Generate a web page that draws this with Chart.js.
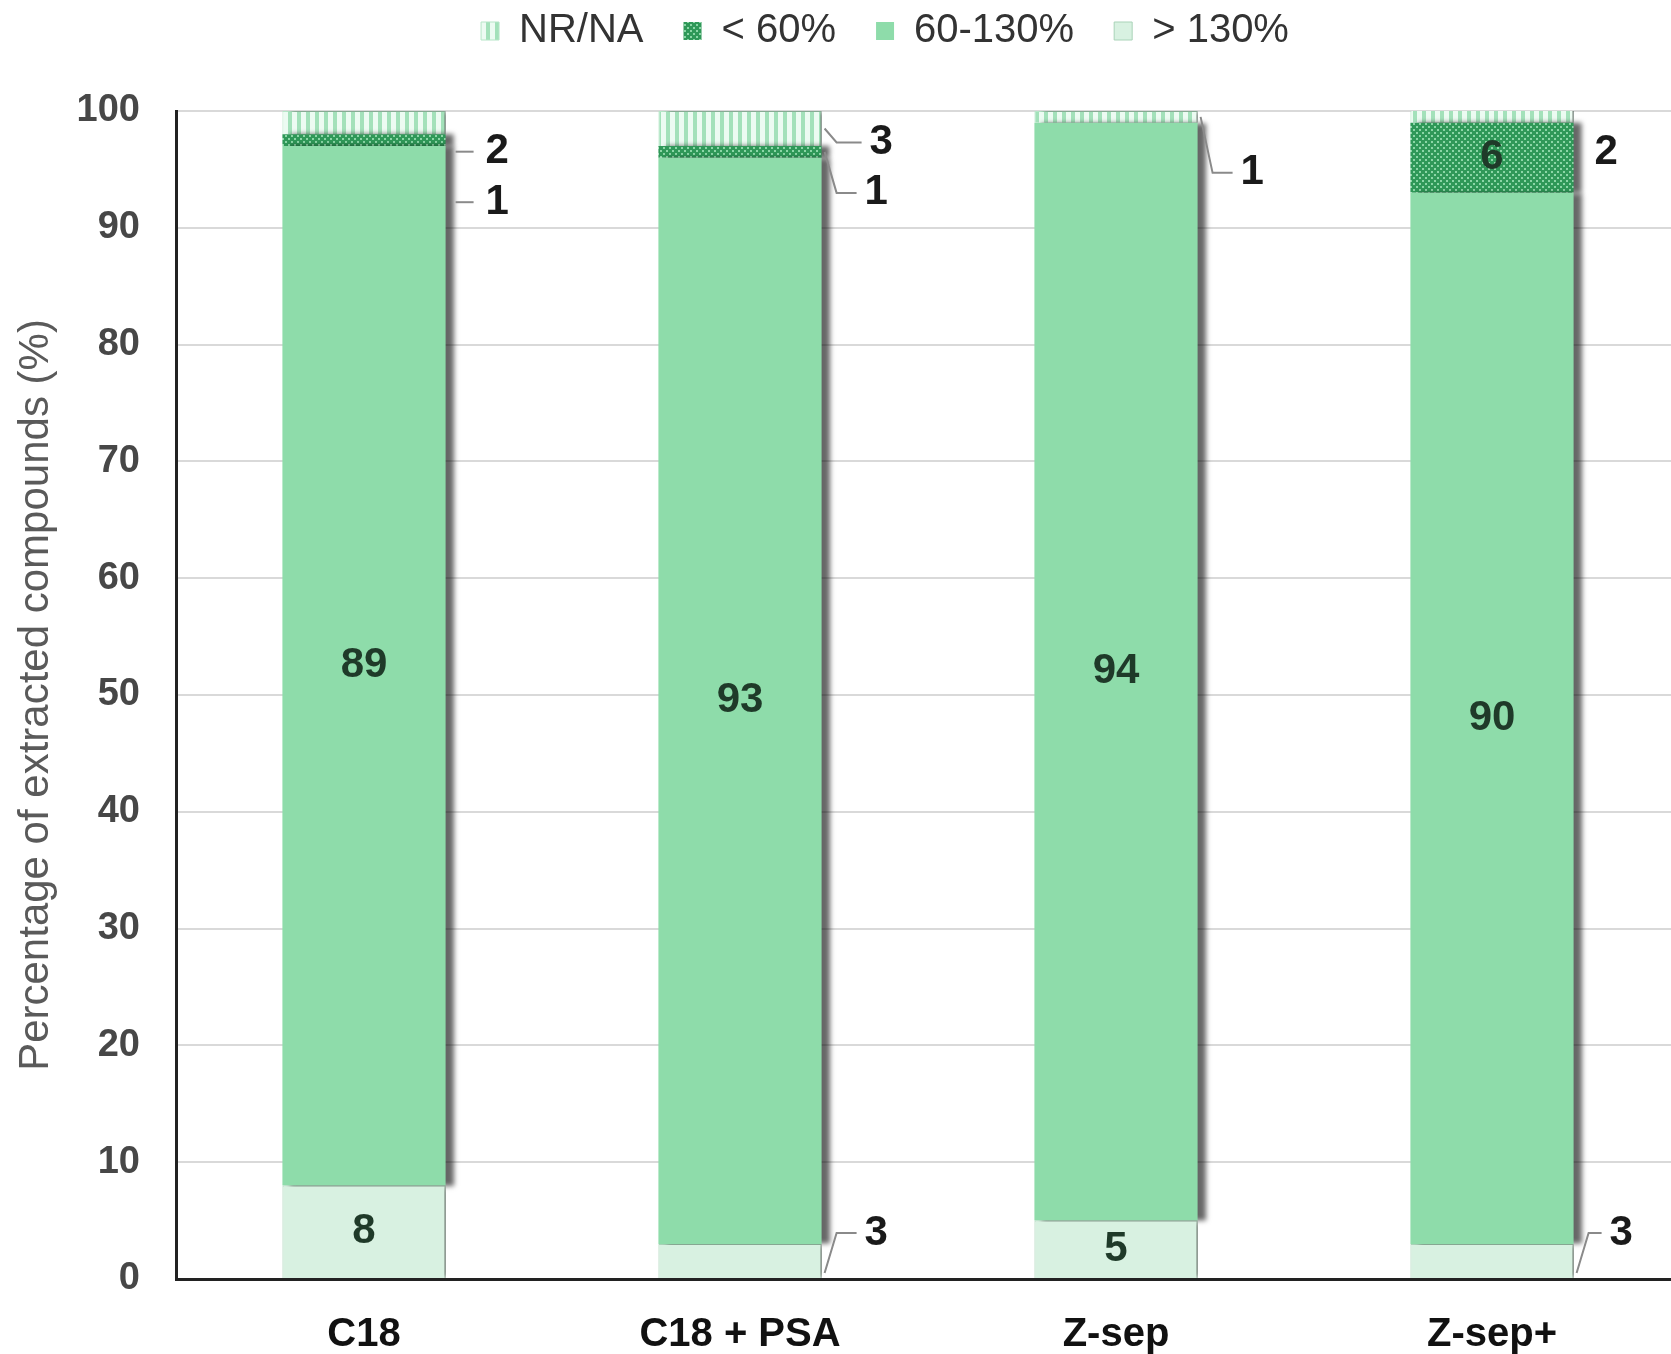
<!DOCTYPE html>
<html>
<head>
<meta charset="utf-8">
<title>Extracted compounds by clean-up sorbent</title>
<script src="https://cdn.jsdelivr.net/npm/chart.js@4.4.0/dist/chart.umd.min.js"></script>
<style>
  html, body { margin: 0; padding: 0; overflow: hidden; background: #fff; }
  #wrap { width: 1680px; height: 1354px; }
</style>
</head>
<body>
<div id="wrap"><canvas id="recovery" width="1680" height="1354"></canvas></div>
<script>
// sorbents on the x axis
const sorbents = ['C18', 'C18 + PSA', 'Z-sep', 'Z-sep+'];
// share of compounds (%) in each recovery class, stacked bottom to top
const over130 = [8, 3, 5, 3];
const within60to130 = [89, 93, 94, 90];
const under60 = [1, 1, 0, 6];
const notRecovered = [2, 3, 1, 2];
const yTicks = [0, 10, 20, 30, 40, 50, 60, 70, 80, 90, 100];

const FONT = '"Liberation Sans", Arial, sans-serif';

// where each value label goes: 'in' = centred in the segment,
// otherwise offset to the right of the bar with an optional leader line
const labelSpots = [
  ['in', {dx: 43, dy: -28, from: 12, leader: 'elbow'}, 'in', {dx: 36, dy: -28, from: 12, leader: 'elbow'}],
  ['in', 'in', 'in', 'in'],
  [{dx: 40, dy: 62, leader: 'dash'}, {dx: 43, dy: 41, leader: 'elbow'}, 'skip', 'in'],
  [{dx: 40, dy: 29, leader: 'dash'}, {dx: 48, dy: 14, leader: 'elbow'}, {dx: 43, dy: 56, leader: 'elbow'}, {dx: 21, dy: 41, leader: 'none'}]
];

function makePattern(size, paint) {
  const c = document.createElement('canvas');
  c.width = size; c.height = size;
  const g = c.getContext('2d');
  paint(g);
  return g.createPattern(c, 'repeat');
}

// vertical pale stripes for NR/NA
const stripes = makePattern(9, g => {
  g.fillStyle = '#ecfbf2';
  g.fillRect(0, 0, 9, 9);
  g.fillStyle = '#a3e1ba';
  g.fillRect(0, 0, 4, 9);
});

// dark green with light dots for < 60%
const dots = makePattern(6, g => {
  g.fillStyle = '#2f9858';
  g.fillRect(0, 0, 6, 6);
  g.fillStyle = '#8bd6a6';
  g.fillRect(0, 0, 2, 2);
  g.fillRect(3, 3, 2, 2);
});

const barShadow = {
  id: 'barShadow',
  beforeDatasetsDraw(chart) {
    const c = chart.ctx;
    c.save();
    c.shadowColor = 'rgba(0,0,0,0.6)';
    c.shadowBlur = 5;
    c.shadowOffsetX = 8;
    c.shadowOffsetY = 0;
  },
  afterDatasetsDraw(chart) {
    chart.ctx.restore();
  }
};

const valueLabels = {
  id: 'valueLabels',
  afterDatasetsDraw(chart) {
    const c = chart.ctx;
    c.save();
    c.shadowColor = 'transparent';
    c.font = 'bold 42px ' + FONT;
    c.textBaseline = 'middle';
    chart.data.datasets.forEach((ds, di) => {
      const meta = chart.getDatasetMeta(di);
      meta.data.forEach((bar, i) => {
        const value = ds.data[i];
        const spot = labelSpots[di][i];
        if (!value || spot === 'skip') return;
        const p = bar.getProps(['x', 'y', 'base', 'width'], true);
        const midY = (p.y + p.base) / 2;
        if (spot === 'in') {
          c.fillStyle = '#1f3a29';
          c.textAlign = 'center';
          c.fillText(String(value), p.x, midY);
          return;
        }
        const right = p.x + p.width / 2;
        const ly = midY + spot.dy;
        c.strokeStyle = '#8a8a8a';
        c.lineWidth = 2;
        if (spot.leader === 'dash') {
          c.beginPath();
          c.moveTo(right + 10, ly);
          c.lineTo(right + spot.dx - 12, ly);
          c.stroke();
        } else if (spot.leader === 'elbow') {
          c.beginPath();
          c.moveTo(right + 3, midY + (spot.from || 0));
          c.lineTo(right + 15, ly);
          c.lineTo(right + spot.dx - 8, ly);
          c.stroke();
        }
        c.fillStyle = '#1a1a1a';
        c.textAlign = 'left';
        c.fillText(String(value), right + spot.dx, ly);
      });
    });
    c.restore();
  }
};

// nudge the legend so it sits over the centre of the full figure
const legendPlace = {
  id: 'legendPlace',
  afterLayout(chart) {
    const lg = chart.legend;
    lg.left += 45;
    lg.right += 45;
    lg.top -= 50;
    lg.bottom -= 50;
  }
};

new Chart(document.getElementById('recovery'), {
  type: 'bar',
  data: {
    labels: sorbents,
    datasets: [
      { label: '> 130%', data: over130, backgroundColor: '#d8f1e1', borderColor: '#a9d3b8', borderWidth: 1 },
      { label: '60-130%', data: within60to130, backgroundColor: '#8edcaa', borderWidth: 0 },
      { label: '< 60%', data: under60, backgroundColor: dots, borderWidth: 0 },
      { label: 'NR/NA', data: notRecovered, backgroundColor: stripes, borderColor: '#b5e6c7', borderWidth: 1 }
    ]
  },
  options: {
    responsive: false,
    animation: false,
    devicePixelRatio: 1,
    categoryPercentage: 1,
    barPercentage: 0.434,
    layout: { padding: 0 },
    plugins: {
      legend: {
        position: 'top',
        reverse: true,
        labels: {
          boxWidth: 18,
          boxHeight: 18,
          padding: 40,
          color: '#333333',
          font: { family: FONT, size: 40 }
        }
      },
      tooltip: { enabled: false }
    },
    scales: {
      x: {
        stacked: true,
        grid: { display: false },
        border: { color: '#222', width: 3 },
        ticks: { color: '#111', padding: 24, font: { family: FONT, size: 40, weight: 'bold' } },
        afterFit(scale) {
          scale.height = 75;
          scale.paddingLeft = 0;
          scale.paddingRight = 0;
        }
      },
      y: {
        stacked: true,
        min: 0,
        max: 100,
        afterBuildTicks(scale) {
          scale.ticks = yTicks.map(v => ({ value: v }));
        },
        grid: { color: '#d9d9d9', lineWidth: 2, drawTicks: false },
        border: { color: '#222', width: 3 },
        ticks: { color: '#474747', padding: 36, font: { family: FONT, size: 38, weight: 'bold' } },
        title: {
          display: true,
          text: 'Percentage of extracted compounds (%)',
          color: '#5a5a5a',
          padding: { top: 11, bottom: 0 },
          font: { family: FONT, size: 42 }
        },
        afterFit(scale) {
          scale.width = 176;
          scale.paddingTop = 111;
        }
      }
    }
  },
  plugins: [barShadow, valueLabels, legendPlace]
});
</script>
</body>
</html>
